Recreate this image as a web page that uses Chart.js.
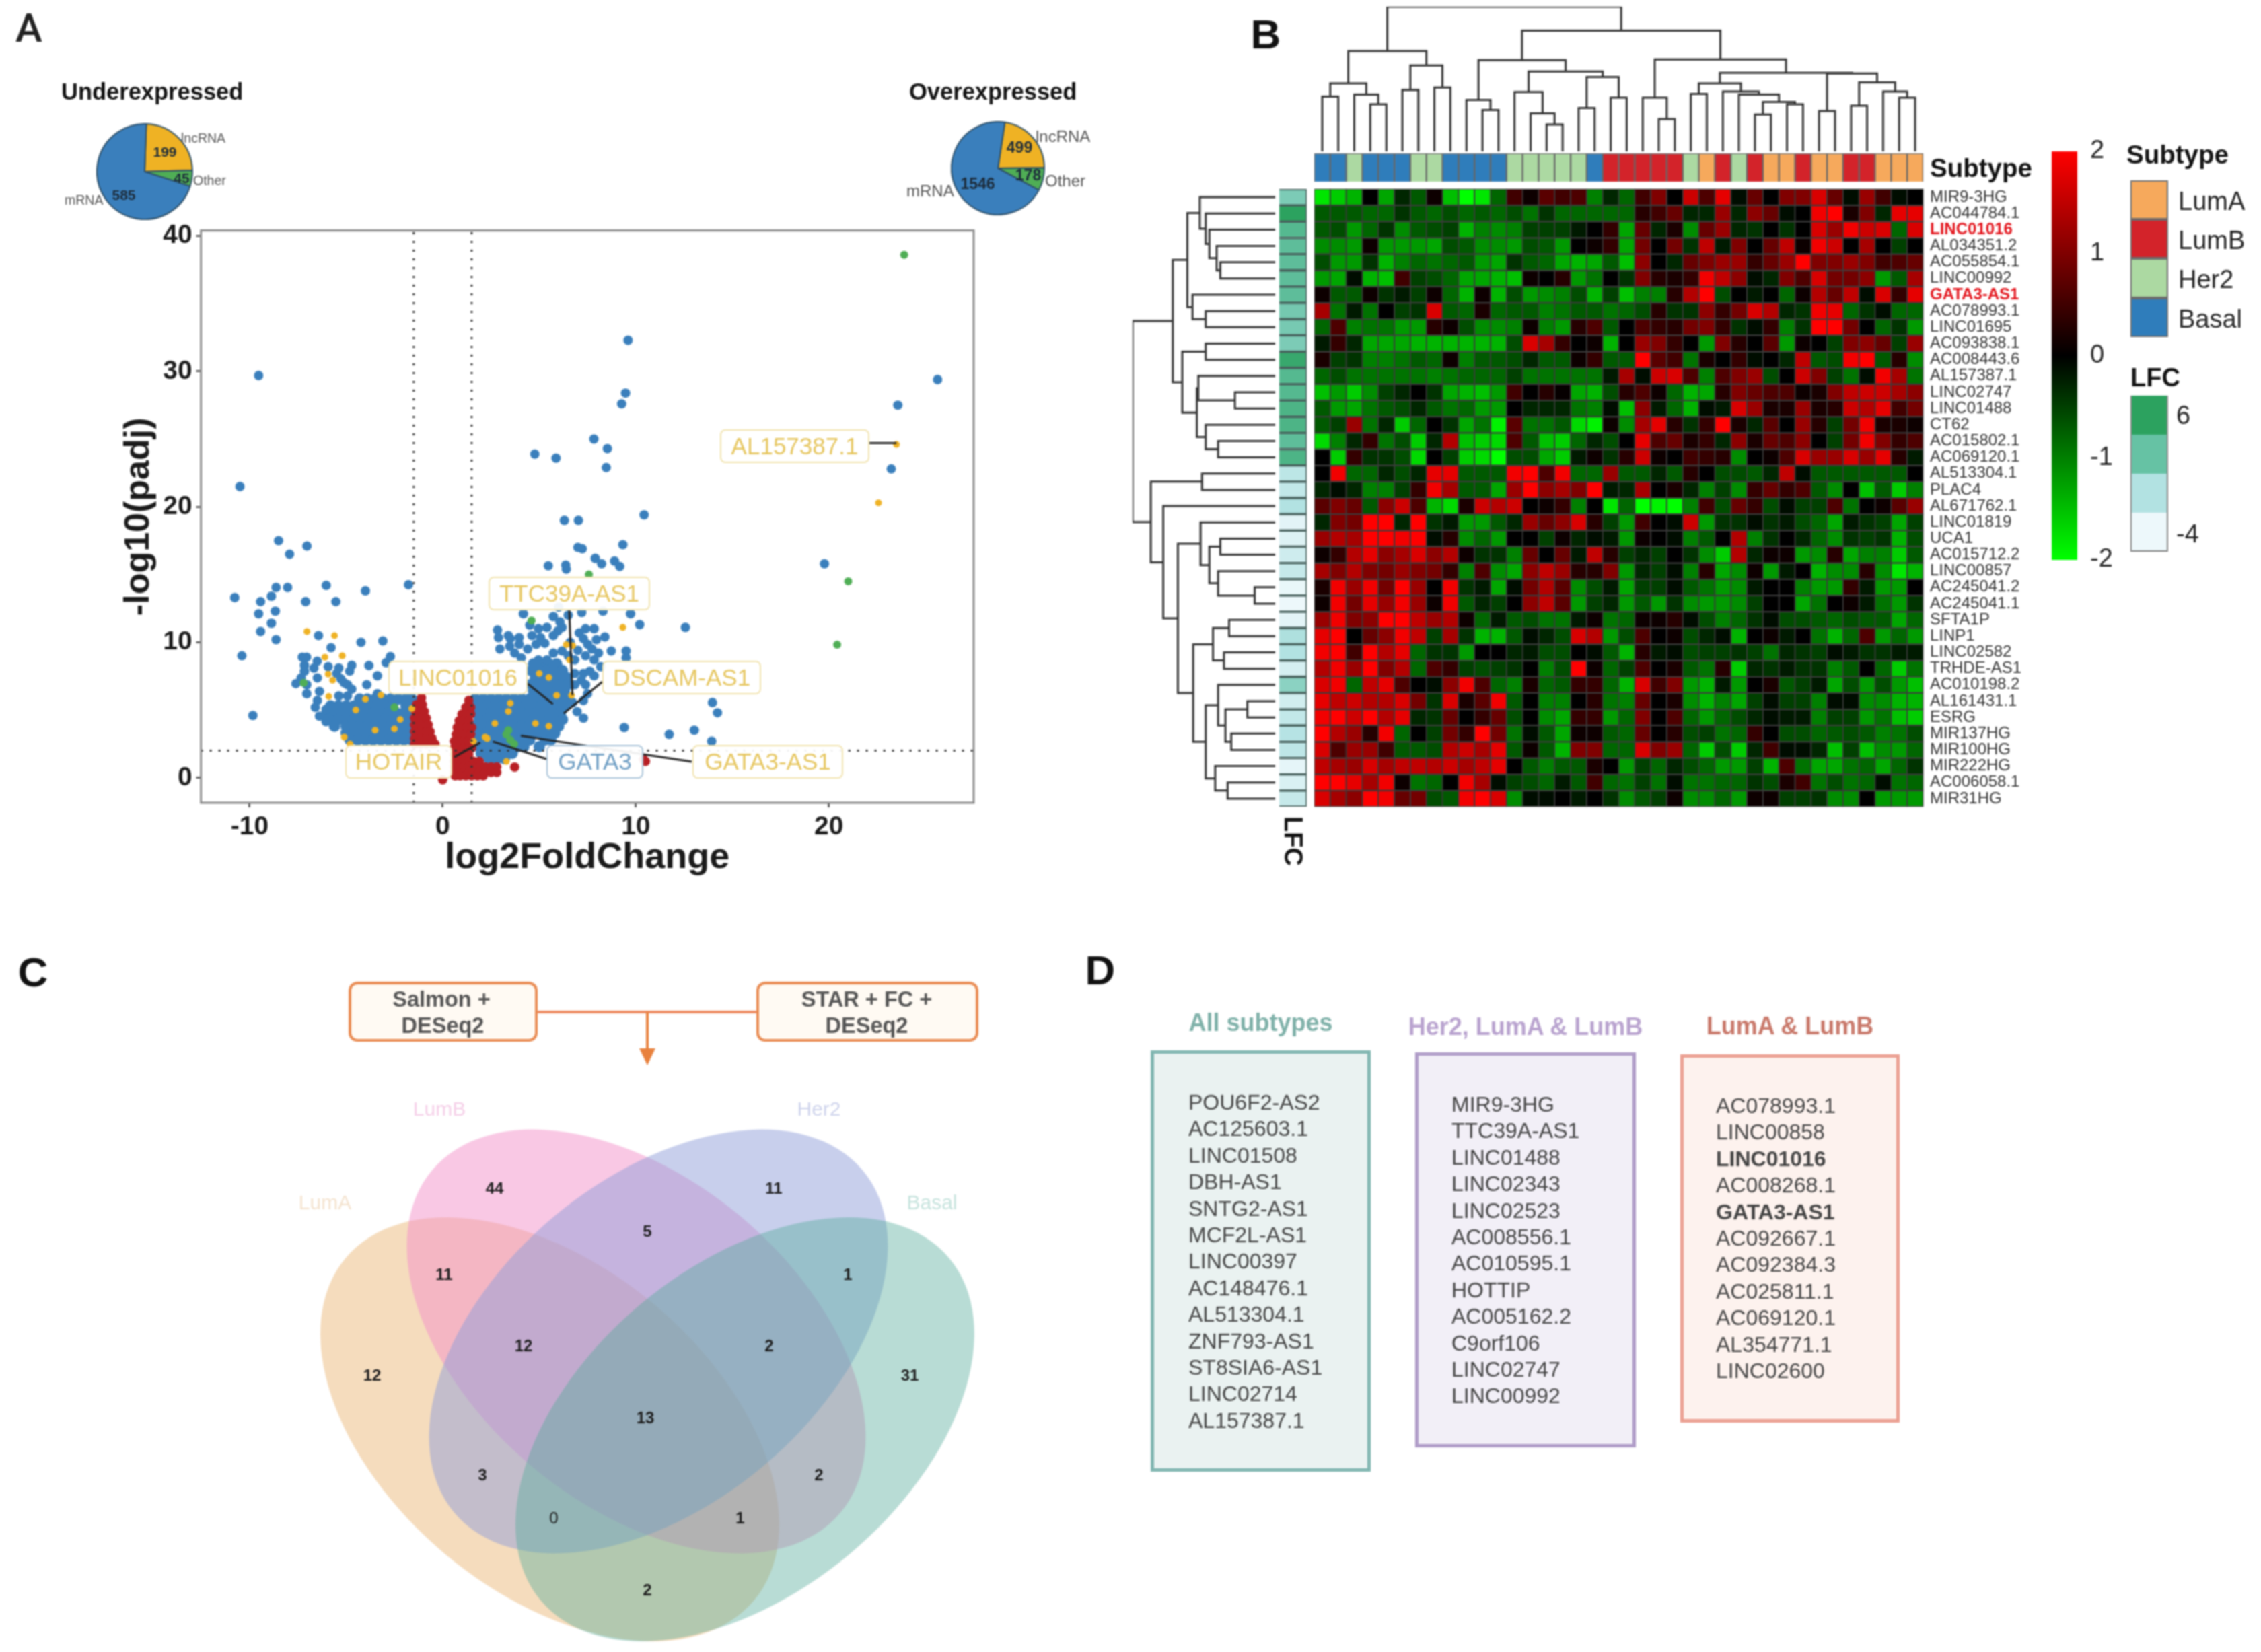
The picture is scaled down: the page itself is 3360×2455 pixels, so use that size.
<!DOCTYPE html>
<html>
<head>
<meta charset="utf-8">
<title>lncRNA figure</title>
<script src="https://cdn.jsdelivr.net/npm/chart.js@4"></script>
<style>
  html, body { margin: 0; padding: 0; background: #fff; overflow: hidden; }
  #stage { position: absolute; left: 0; top: 0; width: 3360px; height: 2455px; filter: blur(0.8px); font-family: "Liberation Sans", Arial, sans-serif; }
  #stage canvas { position: absolute; }
  .t { position: absolute; white-space: nowrap; line-height: 1; }
  .box { position: absolute; box-sizing: border-box; }
</style>
</head>
<body>
<div id="stage"></div>
<script>
// ---- panel A: pies ----
const pieLabels = ["lncRNA", "Other", "mRNA"];
const underValues = [199, 45, 585];
const overValues = [499, 178, 1546];

// ---- panel A: volcano, [log2FoldChange, -log10(padj)] ----
const foldTicks = [-10, 0, 10, 20];
const padjTicks = [0, 10, 20, 30, 40];
const bluePoints = [
  [-9.53,29.7],[-10.5,21.5],[-8.5,17.5],[-7.93,16.5],[-7.03,17.1],[-8.63,14.05],[-8.03,14.05],[-6.03,14.2],[-4,13.8],[-1.77,14.25],
  [-10.77,13.3],[-9.43,13],[-8.87,13.4],[-7.1,13],[-5.53,13],[-9.53,12.1],[-8.67,12.3],[-8.87,11.4],[-9.43,10.8],[-8.63,10.2],
  [-10.4,9],[-9.83,4.6],[-6.43,10.5],[-4.23,10],[-3.1,10.1],[-5.78,9.6],[-7.27,8.9],[-7.05,8.9],[-6.5,8.6],[-7.16,8.3],
  [-6.67,8.1],[-7.16,7.86],[-7.6,6.95],[-7.33,7.37],[-7.04,6.87],[-6.49,7.37],[-5.93,8.2],[-5.38,8.1],[-4.71,8.3],[-4.82,7.87],
  [-5.49,7.7],[-5.27,7.3],[-4.93,6.87],[-4.71,6.54],[-3.82,8.28],[-2.71,8.94],[-2.93,8.5],[-3.38,7.53],[-3.93,6.87],[-3.38,6.2],
  [-7.04,6.2],[-6.38,6.37],[-6.49,5.7],[-6.6,5.2],[-6.04,5.05],[-6.38,4.55],[-6.04,4.14],[-5.38,6.04],[-4.93,6.04],[-5.1,7],
  [9.6,32.3],[9.47,28.4],[9.27,27.6],[23.57,27.5],[25.63,29.4],[7.83,25],[8.53,24.3],[8.47,22.9],[4.77,23.9],[5.87,23.6],
  [23.23,22.8],[6.3,19],[7.03,19],[10.43,19.4],[19.77,15.8],[9.33,17.2],[7,17],[7.23,16.9],[7.9,16.2],[8.23,15.8],
  [8.9,16],[9.17,15.6],[5.47,15.65],[6.37,15.7],[6.4,15.4],[12.57,11.1],[10.2,11.3],[9.73,12.1],[13.97,5.55],[14.23,4.8],
  [9.4,3.7],[11.73,3.2],[13.03,3.5],[13.93,2.7],[9.5,9.35],[9.5,8.85],[8.73,9.35],[8.4,10.4],[2.84,10.9],[2.89,10.35],
  [3.4,10.5],[3.5,10.27],[3.96,10.35],[2.96,9.5],[3.47,9.7],[3.96,9.85],[4.4,9.5],[3.73,9.2],[4.07,8.85],[4.62,10.5],
  [4.96,11],[5.4,11.1],[5.07,10.35],[4.84,9.85],[5.29,9.93],[5.73,10.5],[5.73,11.9],[6.07,11.5],[6.18,11.1],[5.96,10.84],
  [4.18,12.1],[4.51,11.26],[7.84,11],[7.4,11],[7.07,10.7],[7.29,10.27],[7.51,9.85],[7.96,10.2],[7.73,9.5],[8.07,9.2],
  [7.4,9],[7.84,8.7],[8.18,8.2],[7.62,7.86],[7.84,7.53],[7.29,7.7],[6.84,8.7],[6.18,9.35],[5.73,9.2],[5.4,8.7],
  [4.96,8.7],[4.84,8.36],[5.73,8.36],[6.18,8],[6.84,7.7],[7.18,7.2],[7.4,6.87],[6.84,6.87],[7.5,6.2],[7.29,5.7],
  [6.73,5.55],[6.96,4.88],[7.29,4.4],[6.5,12],[6,12.6],[7.2,12.2],[8.3,12.3],[6.6,10],[6.5,9],[7,9.4]
];
// dense parts of the volcano, one x list per row
const blueLeftRows = [5.8, 5.3, 4.8, 4.3, 3.8, 3.3, 2.8];
const blueLeftX = [
  [-4.3,-3.9,-3.5,-3.1,-2.7,-2.3,-1.9,-1.6],
  [-5.8,-5.4,-5,-4.6,-4.2,-3.8,-3.4,-3,-2.6,-1.9,-1.6],
  [-6,-5.6,-5.2,-4.8,-4.4,-4,-3.6,-3.2,-2.8,-2.4,-2,-1.6],
  [-5.9,-5.4,-5,-4.6,-4.2,-3.8,-3.4,-3,-2.6,-2.2,-1.8],
  [-5.6,-5,-4.7,-4.3,-3.9,-3.5,-3.1,-2.7,-2.3,-1.9,-1.6],
  [-5,-4.6,-4.2,-3.8,-3.4,-3,-2.6,-2.2,-1.8],
  [-4.8,-4.4,-4,-3.6,-3.2,-2.8,-2.4,-2,-1.6]
];
const blueRightRows = [8.4, 7.9, 7.4, 6.9, 6.4, 5.8, 5.3, 4.8, 4.3, 3.8, 3.3, 2.8, 2.3, 1.8, 1.4];
const blueRightX = [
  [4.7,5.1,5.5,5.9],
  [4.6,5,5.4,5.8,6.2],
  [4.8,5.2,5.6,6,6.4],
  [4.6,5,5.4,5.8,6.2,6.5],
  [4.7,5.1,5.5,5.9,6.3],
  [1.7,2.1,2.5,2.9,3.3,3.7,4.1,4.5,4.9,5.3,5.7,6.1,6.4],
  [1.9,2.3,2.7,3.1,3.5,3.9,4.3,4.7,5.1,5.5,5.9,6.3],
  [1.7,2.1,2.5,2.9,3.3,3.7,4.1,4.5,4.9,5.3,5.7,6.1],
  [1.9,2.3,2.7,3.1,3.5,3.9,4.3,4.7,5.1,5.5,5.9,6.2],
  [1.7,2.1,2.5,2.9,3.3,3.7,4.1,4.5,4.9,5.3,5.7,6],
  [1.9,2.3,2.7,3.1,3.5,3.9,4.3,4.7,5.1,5.5,5.8],
  [1.7,2.1,2.5,2.9,3.3,3.7,4.1,4.5,5.3,5.6],
  [1.9,2.3,2.7,3.1,3.5,3.9,4.2,5],
  [2,2.4,2.8,3.2,3.6],
  [2.4,2.8,3.2]
];
const redLeftRows = [5.9, 5.4, 4.9, 4.4, 3.9, 3.4, 2.9, 2.5];
const redLeftX = [
  [-1.1],
  [-1.35,-1.05],
  [-1.4,-1.1,-0.95],
  [-1.45,-1.15,-0.85],
  [-1.45,-1.15,-0.85,-0.75],
  [-1.45,-1.15,-0.85,-0.65],
  [-1.45,-1.15,-0.85,-0.55],
  [-1.45,-1.15,-0.85,-0.55,-0.4]
];
const redRightRows = [5.7, 5.2, 4.7, 4.2, 3.7, 3.2, 2.7, 2.2, 1.7, 1.2, 0.8, 0.4, 0.15];
const redRightX = [
  [1.35],
  [1.2,1.45],
  [1,1.25,1.45],
  [0.85,1.1,1.35],
  [0.75,1,1.25,1.5],
  [0.7,0.95,1.2,1.45],
  [0.6,0.85,1.1,1.35],
  [0.6,0.85,1.1,1.35,1.5],
  [0.6,0.85,1.1,1.35],
  [0.6,0.85,1.1,1.35,1.6,1.9],
  [0.6,0.85,1.1,1.35,1.6,1.9,2.2,2.5,2.8],
  [0.6,0.85,1.1,1.35,1.6,1.9,2.2,2.5,2.8],
  [0.65,0.9,1.2,1.5,1.8,2.1]
];
const redPoints = [[3.73,0.78],[0,-0.15],[10.4,1.35],[10.5,1.2]];
const goldPoints = [
  [23.5,24.6],[22.57,20.3],[-7.03,10.8],[-5.6,10.5],[-5.2,9],[-6.1,8.9],[-5.93,7.65],[9.33,11.1],[6.4,9.83],[6.73,9.75],
  [6.57,8.7],[5.9,6.07],[6.67,6.07],[-5.1,3],[-4.5,5],[-3.5,3.5],[-2.5,3.6],[-2.2,4.3],[-1.6,5.1],[-4.8,2.5],
  [-5.9,6],[-5.7,7.2],[3.4,4.9],[2.7,4],[2.2,3],[1.6,2.7],[4.8,4],[5.5,3.8],[3.5,5.5],[5,7.7],
  [5.5,7.4],[3.3,1.2],[2.3,2.9],[-3.2,6.1],[-4,5.8]
];
const greenPoints = [[23.9,38.6],[21,14.5],[20.43,9.83],[7.57,15],[4.6,11.6],[3.3,3.2],[3.5,2.8],[3.7,2.5],[3.4,3.5],[-2.5,5.2],[-7.2,7]];
const foldCutoffs = [-1.5, 1.5];
const padjCutoff = 2;
const volcanoLabels = ["TTC39A-AS1", "LINC01016", "DSCAM-AS1", "HOTAIR", "GATA3", "GATA3-AS1", "AL157387.1"];
const leaderLines = [
  [[6.55,12.4],[6.72,6.1]],
  [[4.39,6.95],[5.71,5.45]],
  [[8.26,7.08],[6.27,4.75]],
  [[0.6,1.52],[1.95,2.6]],
  [[5.37,1.38],[2.6,2.68]],
  [[12.9,1.18],[4.05,3.1]],
  [[22.1,24.7],[23.5,24.7]]
];

// ---- panel B: heatmap ----
const rowLabels = ["MIR9-3HG","AC044784.1","LINC01016","AL034351.2","AC055854.1","LINC00992","GATA3-AS1","AC078993.1","LINC01695","AC093838.1",
  "AC008443.6","AL157387.1","LINC02747","LINC01488","CT62","AC015802.1","AC069120.1","AL513304.1","PLAC4","AL671762.1",
  "LINC01819","UCA1","AC015712.2","LINC00857","AC245041.2","AC245041.1","SFTA1P","LINP1","LINC02582","TRHDE-AS1",
  "AC010198.2","AL161431.1","ESRG","MIR137HG","MIR100HG","MIR222HG","AC006058.1","MIR31HG"];
const highlightRows = ["LINC01016", "GATA3-AS1"];
const subtypeNames = ["LumA", "LumB", "Her2", "Basal"];
const columnSubtypes = ["Basal","Basal","Her2","Basal","Basal","Basal","Her2","Her2","Basal","Basal","Basal","Basal","Her2","Her2","Her2","Her2","Her2","Basal",
  "LumB","LumB","LumB","LumB","LumB","Her2","LumA","LumB","Her2","LumB","LumA","LumA","LumB","LumA","LumA","LumB","LumB","LumA","LumA","LumA"];
const rowLfc = [1.5,6,3.5,3,3,3,3,1.8,1.7,1.5,5.3,3.5,3.5,4,4,3,4,-1.5,-1.8,-1,-3.5,-3.2,-2.4,-2,-3.8,-4,-3.5,-0.8,-1,-2.8,0.8,-2.6,-1.8,-1.2,-1.6,-3.6,-3,-2];
const heatValues = [
  [-1.8,-1.6,-1.4,0,-1.3,-.3,-.7,.1,-1.5,-2,-1.8,-.8,.5,.1,.7,.5,.6,-1,-.3,-.8,.5,1,0,1.6,.6,1.8,-.1,.8,0,1,1,1.7,.8,-.1,1.2,.5,-.1,0],
  [-.7,-.7,-.7,-.8,-.8,-.4,-.7,-.8,-.6,-.8,-.7,-.8,-.6,-.9,-.4,-.8,-.8,-.8,-.8,-.8,.3,.5,.8,-.3,-.3,1.2,-.3,1.1,.8,-.1,0,1.9,2,.2,1,-.3,1.8,1.8],
  [-.7,-.6,-1.2,-.8,-.4,-1.1,-.7,-.6,-.5,-1.4,-1,-1.1,-1,-.5,-.5,-.5,-.2,0,.4,-1.3,.8,-.3,.2,-1.1,.8,1.2,-.3,-.4,0,-.4,0,1.7,1.2,1.9,1.6,1.7,-.8,1.7],
  [-1.1,-1.1,-1.2,.1,-1.2,-1.2,-1.2,-1.3,-.6,-.7,-1.1,-1.1,-1.2,-.6,-.7,-1.2,0,.1,.4,-1.3,.9,0,.9,-.4,1.5,-.2,1,0,.8,1.5,.1,1.9,1.6,0,1.3,0,-.5,0],
  [-.6,-1.2,-1.2,-.4,-1.4,-1,-.8,-.9,-.8,-.7,-1.2,-1.3,-.4,-.7,-.8,-1.3,-1.4,-1.3,-.7,-1.5,1.1,0,-.3,.8,1,1.2,1.2,.4,.8,1.2,2,1,1,1.2,1,.5,.6,.8],
  [-1.2,-1.3,-.1,-1.4,-1.5,.5,-.5,-.6,-.8,-1.3,-1.3,-1.4,-1.5,.1,0,.3,-1.2,-.9,0,-.4,1,.3,.2,.4,1.9,1.5,1.1,-.1,-.3,1,.6,1.7,.9,.9,1.1,-1.2,-.7,1.3],
  [.1,-.7,-.7,.1,-.4,-.2,-.5,.1,-.8,-1.4,.1,-1.4,-.6,-1.2,-1.1,-1,-.6,-1.4,-.5,-1.5,-1,-1,.3,1.4,2,-.6,0,-.2,0,-.8,.1,1.4,.8,1.5,-.1,1.7,.4,1.8],
  [1.3,-.9,-.2,-.9,0,-.5,-.4,1.7,-.7,-.8,.2,-.8,-.7,-.7,-1,-.9,-.7,-.7,-.9,-.8,-.6,.3,-.4,-.4,1.1,.4,.9,1.7,1.4,-.3,-.4,1.9,1.8,-.8,-.4,-.1,-.8,-.8],
  [-.8,.6,-1,-.9,-.9,-1.2,-1.2,.3,.1,-.6,-1.1,-1.1,-1,.1,-1,-1.2,.3,.6,-.7,0,.6,.4,.3,.9,1,.4,-.4,-.1,.4,-1,-.4,2,2,.9,0,-.8,-.4,-1.2],
  [-.2,.4,-.3,-1.3,-1.3,-1.3,-1.4,-1.4,-1.4,-1.4,-1.4,-1.4,-.6,1.7,1.3,.4,0,.1,-1.4,0,1.2,1,.4,0,-1.2,1,.3,0,.7,-1.2,.1,0,-.5,1,1.1,.8,-.5,1.2],
  [.2,-.5,-.4,-1,-1,-.9,-.7,-.8,.1,-1,-.7,-.7,-.6,-.3,-.7,-.7,.1,.4,-.7,-.7,2,.7,.5,-.9,.2,0,.4,-.1,0,-.3,1.5,-.7,-.6,1.9,2,-.7,.3,-1.1],
  [-.8,-.6,-.9,-.9,-.9,-.9,-.9,-1,-.9,-.8,-.8,-.8,-.5,-.9,-.9,-.9,-.9,-.9,-.2,1.3,-.1,1.6,1.7,.6,-1,.6,1,1.2,-.6,0,1.6,1,-.5,-.9,-.1,1.9,1.3,-.9],
  [-1.5,-1.2,-1.6,-1.1,-.5,-.3,0,-.4,-1.3,-1.4,-1.5,-1.2,.5,0,.3,.05,-1.3,-1.4,-.6,.3,.6,.1,-.8,-1.4,-1.3,.3,1,.8,.6,.6,.1,.2,1,1.5,1.6,1.6,1.3,1.1],
  [-.7,-1.2,-1.3,-.9,-.7,-.6,-.3,-.7,-.9,-.8,-1.2,-1.2,0,-.3,-.3,-.3,-.9,-1,-.1,-1.5,1.1,-.2,-.8,-1.4,-.1,-.2,1.7,1.2,.2,.2,1.2,.2,.3,1.6,1.4,1.8,.5,.9],
  [-.7,-.5,1.2,-.9,-.3,-1.6,-.8,0,-.4,-1.3,-.9,-1.9,.7,-.9,-.9,-.7,-1.7,-1.9,.1,-1.1,1.3,1.8,.3,-.4,.4,2,.2,-.3,.7,0,1.2,.3,-.5,.9,1.9,.2,.2,.1],
  [-1.7,-1,-.3,.4,-.9,-.6,-1.6,-.3,1.4,-1.5,-1.6,-1.7,.6,-.7,-1.5,-1.6,-.8,-.3,-.6,0,1.8,.6,.8,.2,.4,-.3,1.1,.2,.8,.6,1.1,0,-.5,.9,1.9,1,.4,.6],
  [0,-1.6,.4,-.4,-.4,-.6,-1.7,0,-.5,-1.6,-1.7,-2,-.6,-.6,-1.3,-1.6,-.2,.1,-.4,.3,1.6,.1,0,.5,.4,.3,-1.1,0,.1,.6,1.7,1.2,1.2,1.7,1.2,1.8,.3,-.2],
  [0,1.9,-.8,-.8,-.3,-.6,-.3,1.8,1.8,-.7,-.7,-.7,1.9,2,.6,1.9,-.8,-.8,1.2,-.7,-.7,-.3,-.7,.3,0,-.6,-.6,-.7,-.3,1.5,-.1,-.7,-.7,-.7,-.7,-.7,-.7,0],
  [-.3,-.1,-.3,-1,-1,-.5,.4,1.9,1.3,-.7,-.7,-1.3,1.2,2,1.1,1.3,1,2,-.2,-.3,1.3,0,.2,-.3,-1,-.5,-1.1,.4,.8,.4,.6,-.7,-1.1,0,-1.5,-.7,-1.6,-1],
  [.7,1,.8,-.7,1.1,1.6,.6,-1.4,-1.7,.2,1.6,1.4,1.6,0,.1,.4,-1,0,-1.8,-.8,-2,-1.9,-2,-1,.5,-.6,.8,.4,-.6,-.1,-.5,-.5,.6,-.9,0,.1,.7,1.2],
  [-.3,1,.9,2,2,-.3,2,-.4,-.2,-1.2,-1.2,-.7,-.3,1.2,.8,1.1,1.7,.3,-.5,-1.2,.5,0,-.1,1.6,-1.2,-.4,-.4,-.1,-.4,-.2,-.6,-.8,-1.3,-.2,-.4,-.5,-1.3,-.5],
  [1.2,1.4,1.3,2,2,1.9,2,-.1,.3,-1.1,-.8,-1.2,0,0,-.5,.1,-.3,-.1,-.2,-1.2,.1,0,-.1,-1,-.7,0,1.4,-1,-.4,0,-.3,-.8,-1.1,-.4,-.5,-.4,-1.4,-.6],
  [.1,.4,1.4,1.8,1.1,1.3,1.7,1.1,1.4,.1,-.4,-.4,-1,.8,0,.8,-.2,1.5,.3,-.5,-.3,-.5,0,-.4,-1.1,-1.6,1.4,-.3,.1,.1,-1.2,-1.1,.3,-1.3,-1,-1,-1.6,-.7],
  [1.3,1,1.4,1,.9,1.2,1,.9,.4,-1,.6,-1.1,-1.3,1.1,1.5,1.2,.3,.3,1,-1.2,-.3,-.5,-.1,-1,.3,-1.3,-1.1,.1,-1.2,-.2,0,-1.4,-1.1,-1.1,.3,-1.1,-1.8,-1.4],
  [.2,1.9,1.2,1.9,.9,2,1.2,0,1.9,-.4,-.2,-1.3,-.1,.9,1.4,.7,-1.1,-.6,-.2,-1.3,-.5,-.5,-.1,-.7,-.9,-1.2,-1.1,-.2,0,0,-1,-1.2,-1.2,.4,-.2,-1.2,-1.2,0],
  [.1,1.9,.9,1.8,1.2,1.9,1.2,.1,1.9,-.7,-.3,-.5,0,1.1,1.5,.7,-1.2,-.5,-.3,-1.2,-.7,-1.2,-.4,-1.1,-1.2,-1.2,-1.1,-.5,0,0,-1.3,-.9,0,.1,-.2,-.9,-1.2,-.4],
  [1.2,1.9,1,1.1,2,2,1.5,1.2,1.4,.1,-.8,-.2,-.7,-.6,-.9,-.9,-.2,.1,-.9,-.8,.1,.1,.3,-.1,-.6,-1,-.8,-.4,-.1,-.6,-.6,-.7,-.8,-.6,-.7,-.7,-1.3,-.8],
  [1.8,2,0,.8,1.1,1.9,1.5,-.5,1.3,-.4,-1.4,-1.4,-.7,-.1,-.3,-.6,1.7,1.4,-1.2,-.6,.6,0,.1,-.6,-.3,-.1,-1.4,0,.1,-.2,0,-.9,-1.4,-.8,.6,-1.2,-.8,-1.2],
  [1.9,2,.5,2,1.4,1.8,-.8,-.4,-.4,-1.2,0,0,-.3,-.2,-.6,-.6,0,-.1,-.7,-1.4,.3,-.2,-.1,-.6,-.5,-.5,-.4,-.5,-.9,-.3,-.4,-.5,-.1,-.2,-.4,-.4,-.2,-.2],
  [1.4,1.9,1.2,2,1,1.4,-.8,.6,.4,-.5,-.6,-.5,-.4,0,-1,-.6,2,.1,-.8,-.5,.6,0,.2,-.7,-.9,.3,-1.6,-.3,-.4,-.2,-.4,-.4,-1,-.7,0,-.8,-1.6,-.9],
  [1.7,1.9,-.8,1.5,1.8,.6,0,-.1,1.1,1.9,.6,-.8,-1,.2,-.8,-.7,.4,.4,-.8,-1.4,1.7,.5,1,-1.2,-1.4,-.2,-1.2,0,.2,-.7,-.5,-.2,-1.3,-.6,-1.2,-.6,-1.2,-1.5],
  [1.8,1.5,1.6,1.4,1.4,1.7,.9,-.4,1.7,.2,.7,1.9,-.7,0,-1,-1,0,.3,-.9,-1,.8,0,.2,-1.1,-1.4,-1,-1.3,-.5,-.1,-.5,-.5,-1,-.1,-.1,-1.1,-1.1,-1.4,-1.4],
  [1.9,2,1.6,2,1.4,1.8,-.3,-.4,.8,0,.4,.8,-.6,0,-1.1,-1.3,.4,.4,-1.2,-.8,1,0,.6,-.8,-1.2,-.8,-.6,-.3,-.1,-.2,-.2,-1,-.5,-.5,-1.2,-.9,-1.5,-1.6],
  [2,1.4,1.2,.3,1.9,-.8,0,-.5,.9,.4,2,.9,-.9,-.1,-.7,-1.3,.1,.1,-.7,-.8,.8,0,.3,-.6,-.5,-.9,-.8,.4,0,-.6,-.6,-.8,-.7,-.6,-.7,-1,-.9,-.6],
  [1.7,.6,1.2,1.2,.5,-.7,-.7,-.6,1.4,1.6,1.3,1.8,-.7,.1,-.7,-1.4,1,1,-.8,-.8,1.7,1,1.2,-.8,-1.6,-.6,-1.6,-.3,.5,-.1,-.1,-.3,-1.5,-.5,-1.5,-1.1,-1.2,-.8],
  [1.5,1.3,1.2,1.7,1.3,1.5,1.5,1.4,1.6,1.3,1.5,1.8,0,-.7,-1,-.7,-.7,.2,0,-1.2,-.5,-.8,-.3,-.6,-.8,-1.2,-1.2,-.5,-1.4,.6,-.9,-1.3,-1.3,-.9,-.8,-1.3,-.8,-.4],
  [2,2,1.8,1.3,1.9,.1,-.9,-.8,0,1.9,1.3,-.1,-.5,-.6,-.8,-.2,-.7,.5,-.8,-.9,-.5,-.9,-.1,-.9,-.9,-.8,-.8,-.4,-.6,.2,.5,-.9,-.6,-.9,-.8,-.1,-.9,-.8],
  [1.7,1.3,1.1,2,1.9,.8,.9,-.6,-.7,1.9,2,1.7,-1.1,-.1,-.1,0,-.2,0,-.4,-1.1,-.7,-.5,.1,-1.1,-1.1,-.8,-1.2,.1,.1,-.5,-.5,-.4,-1.1,-1.1,0,-1.2,-1.2,-1.2]
];
// merges: [a, b, height]; a or b >= 0 is a leaf, -(k+1) is merge number k
const columnMerges = [
  [0,1,183],[3,4,157],[2,-2,190],[-1,-3,227],[5,6,205],[7,8,213],[-5,-6,287],[-4,-7,335],[10,11,138],[9,-9,172],
  [14,15,90],[13,-11,127],[12,-12,198],[16,17,145],[18,19,180],[-14,-15,248],[-13,-16,267],[-10,-17,305],[21,22,108],[20,-19,180],
  [23,24,192],[27,28,123],[29,30,157],[-22,-23,165],[26,-24,190],[25,-25,200],[-21,-26,227],[31,32,135],[33,34,153],[36,37,180],
  [35,-30,200],[-29,-31,230],[-28,-32,260],[-27,-33,262],[-20,-34,307],[-18,-35,403],[-8,-36,483]
];
const rowMerges = [
  [4,5,75],[3,-1,80],[2,-2,90],[1,-3,95],[0,-4,103],[7,8,95],[6,-6,113],[-5,-7,120],[9,10,95],[12,13,55],
  [11,-10,105],[15,16,78],[14,-12,95],[-11,-13,107],[-9,-14,127],[-8,-15,140],[17,18,100],[21,22,75],[24,25,28],[23,-19,78],
  [-18,-20,90],[20,-21,102],[26,27,63],[28,29,70],[-23,-24,85],[31,32,38],[33,34,60],[-26,-27,68],[30,-28,78],[36,37,65],
  [35,-30,82],[-29,-31,95],[-25,-32,112],[-22,-33,133],[19,-34,153],[-17,-35,170],[-16,-36,195]
];
const colorbarTicks = [-2, -1, 0, 1, 2];
const lfcLegend = ["6", "", "", "-4"];

// ---- panel C: venn ----
const vennSets = ["LumA", "LumB", "Her2", "Basal"];
const vennCounts = [44, 11, 5, 11, 1, 12, 2, 12, 31, 13, 3, 2, 0, 1, 2];
const vennCountX = [735, 1150, 962, 660, 1260, 778, 1143, 553, 1352, 959, 717, 1217, 823, 1100, 962];
const vennCountY = [1767, 1767, 1831, 1895, 1895, 2001, 2001, 2045, 2045, 2108, 2193, 2193, 2257, 2257, 2364];

// ---- panel D: lists ----
const allSubtypes = ["POU6F2-AS2","AC125603.1","LINC01508","DBH-AS1","SNTG2-AS1","MCF2L-AS1","LINC00397","AC148476.1","AL513304.1","ZNF793-AS1","ST8SIA6-AS1","LINC02714","AL157387.1"];
const her2LumALumB = ["MIR9-3HG","TTC39A-AS1","LINC01488","LINC02343","LINC02523","AC008556.1","AC010595.1","HOTTIP","AC005162.2","C9orf106","LINC02747","LINC00992"];
const lumALumB = ["AC078993.1","LINC00858","LINC01016","AC008268.1","GATA3-AS1","AC092667.1","AC092384.3","AC025811.1","AC069120.1","AL354771.1","LINC02600"];

// ---- helpers ----
const stage = document.getElementById("stage");
const FONT = '"Liberation Sans", Arial, sans-serif';
Chart.defaults.font.family = FONT;
Chart.defaults.animation = false;
Chart.defaults.responsive = false;
Chart.defaults.devicePixelRatio = 1;
Chart.defaults.layout.autoPadding = false;
Chart.defaults.plugins.legend.display = false;
Chart.defaults.plugins.tooltip.enabled = false;

function addCanvas(x, y, w, h) {
  const c = document.createElement("canvas");
  c.width = w;
  c.height = h;
  c.style.left = x + "px";
  c.style.top = y + "px";
  c.style.width = w + "px";
  c.style.height = h + "px";
  stage.appendChild(c);
  return c;
}

// anchor: c centre, l left
function addText(text, x, y, css, anchor) {
  const d = document.createElement("div");
  d.className = "t";
  d.textContent = text;
  d.style.cssText = "left:" + x + "px;top:" + y + "px;transform:translate(" + (anchor === "l" ? "0" : "-50%") + ",-50%);" + (css || "");
  stage.appendChild(d);
  return d;
}

function addBox(x, y, w, h, css) {
  const d = document.createElement("div");
  d.className = "box";
  d.style.cssText = "left:" + x + "px;top:" + y + "px;width:" + w + "px;height:" + h + "px;" + css;
  stage.appendChild(d);
  return d;
}

function rowsToPoints(rows, xs) {
  const pts = [];
  rows.forEach((y, i) => xs[i].forEach(x => pts.push({ x, y })));
  return pts;
}
const toPoints = pairs => pairs.map(p => ({ x: p[0], y: p[1] }));

function heatColor(v) {
  const k = Math.round(Math.min(Math.abs(v), 2) / 2 * 255);
  return v >= 0 ? "rgb(" + k + ",0,0)" : "rgb(0," + k + ",0)";
}

const lfcStops = [[-4,237,248,251], [-1,178,226,226], [2.5,102,194,164], [6,44,162,95]];
function lfcColor(v) {
  for (let i = 1; i < lfcStops.length; i++) {
    if (v <= lfcStops[i][0]) {
      const a = lfcStops[i - 1], b = lfcStops[i];
      const t = (v - a[0]) / (b[0] - a[0]);
      return "rgb(" + [1, 2, 3].map(k => Math.round(a[k] + (b[k] - a[k]) * t)).join(",") + ")";
    }
  }
  return "rgb(44,162,95)";
}

const subtypeColors = { LumA: "#f6a95c", LumB: "#d3232a", Her2: "#acd9a2", Basal: "#2f7dbb" };
const hidden = (min, max, reverse) => ({ type: "linear", display: false, min, max, reverse: !!reverse });

// ---- panel labels ----
addText("A", 43, 41, "font:500 60px Roboto," + FONT + ";color:#222");
addText("B", 1881, 50, "font:bold 62px " + FONT + ";color:#111");
addText("C", 49, 1444, "font:bold 62px " + FONT + ";color:#111");
addText("D", 1635, 1441, "font:bold 62px " + FONT + ";color:#111");

// ---- pies ----
const GOLD = "#efb224", GREEN = "#4fae55", BLUE = "#3a7fbc", RED = "#b81f24";
function drawPie(cx, cy, r, values, rotation) {
  new Chart(addCanvas(cx - r - 3, cy - r - 3, 2 * r + 6, 2 * r + 6), {
    type: "pie",
    data: { labels: pieLabels, datasets: [{ data: values, backgroundColor: [GOLD, GREEN, BLUE], borderColor: "#2d4f68", borderWidth: 2 }] },
    options: { rotation, layout: { padding: 0 } }
  });
}
drawPie(215, 255, 69, underValues, 2);
drawPie(1483, 250, 67, overValues, 8.6);

const pieHead = "font:bold 34.5px " + FONT + ";color:#111";
addText("Underexpressed", 91, 136, pieHead, "l");
addText("Overexpressed", 1351, 136, pieHead, "l");
const numCss = size => "font:bold " + size + "px " + FONT + ";color:#1c2b3a";
const smallCss = size => "font:" + size + "px " + FONT + ";color:#555";
addText(String(underValues[0]), 245, 226, numCss(21));
addText(String(underValues[1]), 270, 265, numCss(21));
addText(String(underValues[2]), 184, 290, numCss(21));
addText(pieLabels[0], 269, 205, smallCss(19.5), "l");
addText(pieLabels[1], 287, 268, smallCss(19.5), "l");
addText(pieLabels[2], 96, 297, smallCss(19.5), "l");
addText(String(overValues[0]), 1515, 219, numCss(23));
addText(String(overValues[1]), 1528, 260, numCss(23));
addText(String(overValues[2]), 1453, 273, numCss(23));
addText(pieLabels[0], 1539, 203, smallCss(24), "l");
addText(pieLabels[1], 1553, 269, smallCss(24), "l");
addText(pieLabels[2], 1347, 284, smallCss(24), "l");

// ---- volcano ----
const framePlugin = {
  id: "frame",
  afterDatasetsDraw(chart) {
    const a = chart.chartArea, ctx = chart.ctx;
    ctx.save();
    ctx.strokeStyle = "#8c8c8c";
    ctx.lineWidth = 3;
    ctx.strokeRect(a.left, a.top, a.right - a.left, a.bottom - a.top);
    ctx.restore();
  }
};
const thresholdLine = pts => ({ data: toPoints(pts), showLine: true, pointRadius: 0, borderColor: "#333", borderWidth: 3, borderDash: [3, 10] });
const dots = (data, color, radius) => ({ data, backgroundColor: color, borderWidth: 0, pointRadius: radius, showLine: false });
const xMin = -12.52, xMax = 27.5, yMin = -1.85, yMax = 40.4;
new Chart(addCanvas(171, 300, 1296, 1012), {
  type: "scatter",
  data: {
    datasets: [
      ...leaderLines.map(l => ({ data: toPoints(l), showLine: true, pointRadius: 0, borderColor: "#222", borderWidth: 3 })),
      thresholdLine([[foldCutoffs[0], yMin], [foldCutoffs[0], yMax]]),
      thresholdLine([[foldCutoffs[1], yMin], [foldCutoffs[1], yMax]]),
      thresholdLine([[xMin, padjCutoff], [xMax, padjCutoff]]),
      dots(toPoints(goldPoints), GOLD, 5),
      dots(toPoints(greenPoints), GREEN, 6),
      dots(toPoints(redPoints).concat(rowsToPoints(redLeftRows, redLeftX), rowsToPoints(redRightRows, redRightX)), RED, 7),
      dots(toPoints(bluePoints), BLUE, 7),
      dots(rowsToPoints(blueLeftRows, blueLeftX).concat(rowsToPoints(blueRightRows, blueRightX)), BLUE, 8.5)
    ]
  },
  options: {
    layout: { padding: { top: 42.6, right: 20, bottom: 0, left: 0 } },
    scales: {
      x: {
        type: "linear", min: xMin, max: xMax,
        afterFit: s => { s.height = 119; },
        afterBuildTicks: s => { s.ticks = foldTicks.map(value => ({ value })); },
        grid: { drawOnChartArea: false, color: "#444", tickLength: 7, tickWidth: 2.5 },
        border: { display: false },
        ticks: { color: "#1a1a1a", padding: 6, maxRotation: 0, font: { size: 39, weight: "bold" } },
        title: { display: true, text: "log2FoldChange", color: "#1a1a1a", font: { size: 54, weight: "bold" } }
      },
      y: {
        type: "linear", min: yMin, max: yMax,
        afterFit: s => { s.width = 127.6; },
        afterBuildTicks: s => { s.ticks = padjTicks.map(value => ({ value })); },
        grid: { drawOnChartArea: false, color: "#444", tickLength: 7, tickWidth: 2.5 },
        border: { display: false },
        ticks: { color: "#1a1a1a", padding: 6, font: { size: 39, weight: "bold" } },
        title: { display: true, text: "-log10(padj)", color: "#1a1a1a", font: { size: 52, weight: "bold" } }
      }
    }
  },
  plugins: [framePlugin]
});

// repel labels, in the same order as volcanoLabels
const labelBoxes = [[726,857,240,50],[577,982,207,50],[895,982,236,50],[513,1107,159,50],[812,1107,144,50],[1029,1107,224,50],[1070,638,222,50]];
volcanoLabels.forEach((name, i) => {
  const b = labelBoxes[i];
  const isGene = name === "GATA3";
  const box = addBox(b[0], b[1], b[2], b[3], "background:rgba(255,255,255,.93);border-radius:8px;border:2.5px solid " + (isGene ? "#a8c3d8" : "#f1e3ae"));
  box.style.zIndex = 2;
  const t = addText(name, b[0] + b[2] / 2, b[1] + b[3] / 2, "font:35px " + FONT + ";color:" + (isGene ? "#6d9dc3" : "#e6c65f"));
  t.style.zIndex = 3;
});

// ---- dendrograms ----
function dendroPaths(merges, horizontal) {
  const nodes = [];
  return merges.map(m => {
    const get = r => (r >= 0 ? { p: r, h: 0 } : nodes[-r - 1]);
    const a = get(m[0]), b = get(m[1]), h = m[2];
    nodes.push({ p: (a.p + b.p) / 2, h });
    const path = [[a.p, a.h], [a.p, h], [b.p, h], [b.p, b.h]];
    return path.map(q => (horizontal ? { x: q[1], y: q[0] } : { x: q[0], y: q[1] }));
  });
}
const dendroDataset = data => ({ data, showLine: true, pointRadius: 0, borderColor: "#333", borderWidth: 3, clip: false, tension: 0 });
new Chart(addCanvas(1953, 10, 905, 215), {
  type: "scatter",
  data: { datasets: dendroPaths(columnMerges, false).map(dendroDataset) },
  options: { scales: { x: hidden(-0.5, 37.5), y: hidden(0, 483) } }
});
new Chart(addCanvas(1683, 281, 212, 918), {
  type: "scatter",
  data: { datasets: dendroPaths(rowMerges, true).map(dendroDataset) },
  options: { scales: { x: hidden(0, 195, true), y: hidden(-0.5, 37.5, true) } }
});

// ---- annotation strips ----
new Chart(addCanvas(1953, 228, 905, 42), {
  type: "bar",
  data: {
    labels: columnSubtypes,
    datasets: [{ data: columnSubtypes.map(() => 1), backgroundColor: columnSubtypes.map(s => subtypeColors[s]), borderColor: "#666", borderWidth: 1.5, barPercentage: 1, categoryPercentage: 1 }]
  },
  options: { scales: { x: { type: "category", display: false }, y: hidden(0, 1) } }
});
new Chart(addCanvas(1901, 281, 41, 918), {
  type: "bar",
  data: {
    labels: rowLabels,
    datasets: [{ data: rowLfc.map(() => 1), backgroundColor: rowLfc.map(v => lfcColor(v)), borderColor: "#47605c", borderWidth: 2, barPercentage: 1, categoryPercentage: 1 }]
  },
  options: { indexAxis: "y", scales: { y: { type: "category", display: false }, x: hidden(0, 1) } }
});
addText("Subtype", 2868, 250, "font:bold 38.5px " + FONT + ";color:#111", "l");
const lfcTitle = addText("LFC", 1921, 1250, "font:bold 38px " + FONT + ";color:#111");
lfcTitle.style.transform = "translate(-50%,-50%) rotate(90deg)";

// ---- heatmap ----
const isHighlighted = ctx => !!ctx.tick && highlightRows.includes(ctx.tick.label);
const heatCells = [];
heatValues.forEach((row, r) => row.forEach((v, c) => heatCells.push({ x: c, y: r, v })));
new Chart(addCanvas(1953, 251, 1087, 978), {
  type: "scatter",
  data: {
    datasets: [{
      data: heatCells,
      pointStyle: "rect",
      pointRadius: 16.5,
      clip: false,
      backgroundColor: ctx => (ctx.raw ? heatColor(ctx.raw.v) : "#000"),
      borderColor: "rgba(58,58,58,.95)",
      borderWidth: 1.4
    }]
  },
  options: {
    layout: { padding: { top: 30, bottom: 30 } },
    scales: {
      x: hidden(-0.5, 37.5),
      y: {
        type: "linear", min: -0.5, max: 37.5, reverse: true, position: "right",
        afterFit: s => { s.width = 182; },
        afterBuildTicks: s => { s.ticks = rowLabels.map((name, value) => ({ value })); },
        grid: { display: false, drawTicks: false },
        border: { display: false },
        ticks: {
          autoSkip: false, padding: 10,
          callback: v => rowLabels[v],
          color: ctx => (isHighlighted(ctx) ? "#e3141c" : "#333"),
          font: ctx => ({ size: 24, weight: isHighlighted(ctx) ? "bold" : "normal" })
        }
      }
    }
  }
});

// ---- colour bar ----
new Chart(addCanvas(3049, 165, 108, 727), {
  type: "bar",
  data: {
    labels: ["z"],
    datasets: [{
      data: [[colorbarTicks[0], colorbarTicks[4]]],
      barPercentage: 1, categoryPercentage: 1,
      backgroundColor: ctx => {
        const a = ctx.chart.chartArea;
        if (!a) return "#000";
        const g = ctx.chart.ctx.createLinearGradient(0, a.top, 0, a.bottom);
        g.addColorStop(0, "#ff0000");
        g.addColorStop(0.5, "#000000");
        g.addColorStop(1, "#00ff00");
        return g;
      }
    }]
  },
  options: {
    layout: { padding: { top: 60, bottom: 60 } },
    scales: {
      x: { type: "category", display: false },
      y: {
        type: "linear", min: colorbarTicks[0], max: colorbarTicks[4], position: "right",
        afterFit: s => { s.width = 70; },
        grid: { display: false, drawTicks: false },
        border: { display: false },
        ticks: { stepSize: 1, padding: 19, color: "#222", font: { size: 38 } }
      }
    }
  }
});

// ---- subtype / LFC legends ----
addText("Subtype", 3160, 230, "font:bold 38.5px " + FONT + ";color:#111", "l");
subtypeNames.forEach((name, i) => {
  addBox(3166, 268 + i * 58.2, 56, 58.2, "background:" + subtypeColors[name] + ";border:2px solid #6c6c6c");
  addText(name, 3237, 299 + i * 58.2, "font:38px " + FONT + ";color:#222", "l");
});
addText("LFC", 3166, 561, "font:bold 38px " + FONT + ";color:#111", "l");
[6, 2.5, -1, -4].forEach((v, i) => {
  addBox(3166, 588 + i * 58, 56, 58, "background:" + lfcColor(v) + ";border-left:2px solid #888;border-right:2px solid #888;" + (i === 3 ? "border-bottom:2.5px solid #777" : ""));
  if (lfcLegend[i]) addText(lfcLegend[i], 3234, i === 0 ? 617 : 793, "font:38px " + FONT + ";color:#222", "l");
});

// ---- panel C flow ----
const flowBox = "background:#fffaf3;border:4px solid #e98b52;border-radius:13px";
addBox(518, 1459, 281, 89, flowBox);
addBox(1124, 1459, 330, 89, flowBox);
const flowText = "font:bold 32.5px " + FONT + ";color:#555";
addText("Salmon +", 656, 1485, flowText);
addText("DESeq2", 658, 1524, flowText);
addText("STAR + FC +", 1288, 1485, flowText);
addText("DESeq2", 1288, 1524, flowText);
addBox(799, 1502, 325, 4, "background:#ee8d63");
addBox(960, 1504, 4, 56, "background:#e8813d");
addBox(950, 1558, 24, 25, "background:#e8813d;clip-path:polygon(0 0,100% 0,50% 100%)");

// ---- venn ----
const vennShapes = [
  { x: 817, y: 2124, rot: 40, fill: "rgba(235,185,123,.5)" },
  { x: 945.5, y: 1993.5, rot: 40, fill: "rgba(243,145,201,.5)" },
  { x: 978.5, y: 1993.5, rot: -40, fill: "rgba(145,159,217,.5)" },
  { x: 1107, y: 2124, rot: -40, fill: "rgba(85,172,156,.42)" }
];
const vennPlugin = {
  id: "venn",
  beforeDatasetsDraw(chart) {
    const ctx = chart.ctx, sx = chart.scales.x, sy = chart.scales.y;
    vennShapes.forEach(s => {
      ctx.beginPath();
      ctx.ellipse(sx.getPixelForValue(s.x), sy.getPixelForValue(s.y), 396, 242, s.rot * Math.PI / 180, 0, 2 * Math.PI);
      ctx.fillStyle = s.fill;
      ctx.fill();
    });
  },
  afterDatasetsDraw(chart) {
    const ctx = chart.ctx, meta = chart.getDatasetMeta(0);
    ctx.save();
    ctx.textAlign = "center";
    ctx.textBaseline = "middle";
    ctx.fillStyle = "#1d1d1d";
    meta.data.forEach((pt, i) => {
      ctx.font = (vennCounts[i] === 0 ? "" : "bold ") + "24px " + FONT;
      ctx.fillText(String(vennCounts[i]), pt.x, pt.y);
    });
    ctx.restore();
  }
};
new Chart(addCanvas(430, 1620, 1070, 835), {
  type: "scatter",
  data: { datasets: [{ data: vennCounts.map((c, i) => ({ x: vennCountX[i], y: vennCountY[i] })), pointRadius: 0 }] },
  options: { scales: { x: hidden(430, 1500), y: hidden(1620, 2455, true) } },
  plugins: [vennPlugin]
});
const vennTitleCss = c => "font:30px " + FONT + ";color:" + c;
addText(vennSets[0], 483, 1787, vennTitleCss("#f4e3cf"));
addText(vennSets[1], 653, 1648, vennTitleCss("#f5cfe8"));
addText(vennSets[2], 1217, 1648, vennTitleCss("#cfd4ec"));
addText(vennSets[3], 1385, 1787, vennTitleCss("#c6e3dd"));

// ---- panel D ----
function geneList(title, titleColor, titleY, names, box, textX, firstY) {
  addBox(box[0], box[1], box[2], box[3], "background:" + box[4] + ";border:5px solid " + box[5]);
  addText(title, box[0] + box[2] / 2, titleY, "font:bold 36px " + FONT + ";color:" + titleColor);
  names.forEach((n, i) => {
    const strong = n === "LINC01016" || n === "GATA3-AS1";
    addText(n, textX, firstY + i * 39.4, "font:" + (strong ? "bold " : "") + "32px " + FONT + ";color:#444", "l");
  });
}
geneList("All subtypes", "#7fb1a9", 1520, allSubtypes, [1710, 1561, 327, 626, "#eaf2f1", "#7fb5b0"], 1766, 1638);
geneList("Her2, LumA & LumB", "#b9a3cf", 1526, her2LumALumB, [2103, 1564, 328, 587, "#f2eff7", "#b09cc8"], 2157, 1641);
geneList("LumA & LumB", "#c9796b", 1525, lumALumB, [2497, 1567, 326, 547, "#fdf2ee", "#eb9e90"], 2550, 1643);
</script>
</body>
</html>
